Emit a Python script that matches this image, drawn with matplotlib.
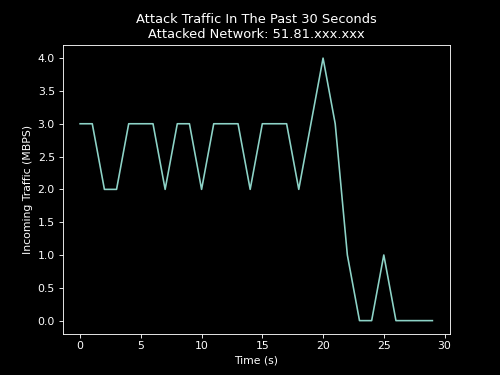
import matplotlib
matplotlib.use('Agg')
import matplotlib.pyplot as plt

# seconds and traffic readings
seconds = list(range(30))
traffic = [3, 3, 2, 2, 3, 3, 3, 2, 3, 3,
           2, 3, 3, 3, 2, 3, 3, 3, 2, 3,
           4, 3, 1, 0, 0, 1, 0, 0, 0, 0]

plt.style.use('dark_background')

# default size, lower dpi to get 500x375
fig = plt.figure(figsize=(6.4, 4.8), dpi=500 / 6.4)
plt.plot(seconds, traffic)

# axis labels
plt.xlabel('Time (s)')
plt.ylabel('Incoming Traffic (MBPS)')

# chart title
plt.title('Attack Traffic In The Past 30 Seconds\nAttacked Network: 51.81.xxx.xxx')

plt.savefig('out.png', dpi=500 / 6.4)
